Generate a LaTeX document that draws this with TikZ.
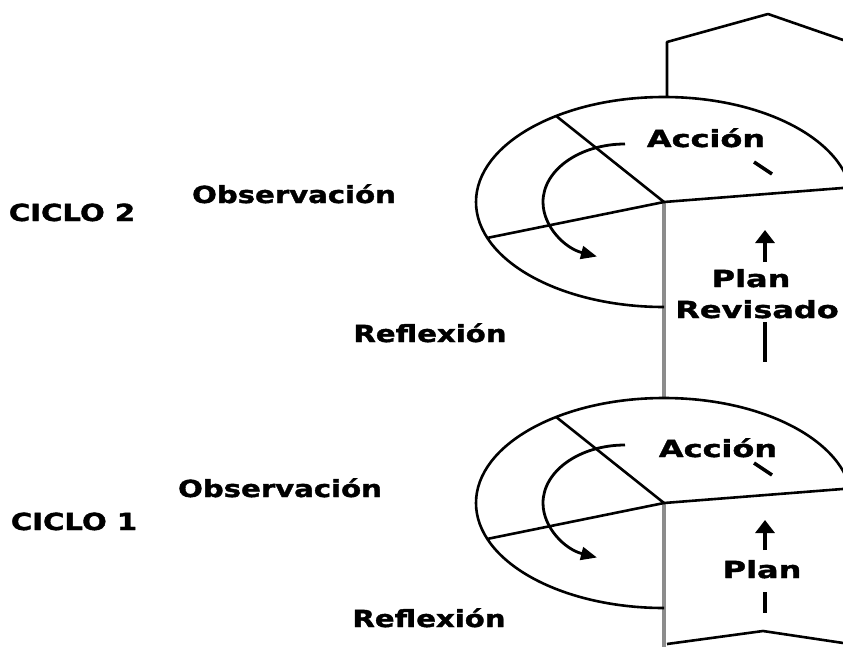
\documentclass[tikz,border=0pt]{standalone}
\usepackage{fontspec}
\newfontfamily\sidefont{DejaVu Sans}[FakeStretch=1.24, FakeBold=1.6]
\newfontfamily\wingfont{DejaVu Sans}[FakeStretch=1.36, FakeBold=1.6]
\usepackage{tikz}
\usetikzlibrary{arrows.meta}

\begin{document}
\begin{tikzpicture}[x=1pt, y=-1pt,
  txt/.style={font=\sidefont\bfseries\fontsize{23.5}{26}\selectfont, inner sep=0pt, anchor=base},
  txtr/.style={font=\wingfont\bfseries\fontsize{23.5}{26}\selectfont, inner sep=0pt, anchor=base},
  rim/.style={line width=2.6pt, line join=round},
  spine/.style={line width=4.5pt, draw=black!45},
  up/.style={line width=3.5pt, -{Triangle[length=13pt, width=19pt]}},
  stub/.style={line width=3.5pt},
  turn/.style={line width=2.8pt, -{Triangle[length=16pt, width=13pt]}}]
  \useasboundingbox (0,0) rectangle (843,646);
  \clip (0,0) rectangle (843,646);

  \coordinate (c2) at (664,202);
  \coordinate (c1) at (664,503);
  \coordinate (top1) at (664,398);
  \coordinate (foot) at (664,650);

  % grey spine
  \draw[spine] (c2) -- (top1);
  \draw[spine] (c1) -- (foot);

  % the two cycles
  \foreach \c in {c1,c2} {
    \draw[rim] ([shift={(188,0)}]\c) arc[start angle=0, end angle=-270, x radius=188, y radius=105];
    \draw[rim] (\c) -- ++(-125:188 and 105);
    \draw[rim] (\c) -- ++(-200:188 and 105);
    \draw[rim] (\c) -- ++(-8:188 and 105);
    \draw[turn] ([shift={(-39,-58)}]\c) arc[start angle=-90, end angle=-250, x radius=82, y radius=58];
    \draw[stub] ([shift={(90,-40)}]\c) -- ++(18,12);
  }

  % chevrons
  \coordinate (neck) at (667,42);
  \coordinate (peak) at (768,14);
  \coordinate (tail) at (875,51);
  \draw[rim] ([shift={(3,-105)}]c2) -- (neck) -- (peak) -- (tail);
  \coordinate (low) at (667,644);
  \coordinate (lowpeak) at (763,631);
  \coordinate (lowtail) at (870,647);
  \draw[rim] (low) -- (lowpeak) -- (lowtail);

  % labels
  \node[txt] (ciclo2) at (72,221) {CICLO 2};
  \node[txt] (obs2) at (294,203) {Observación};
  \node[txt] (refl2) at (430,342) {Reflexión};
  \node[txtr] (acc2) at (706,147) {Acción};
  \node[txtr] (plan2) at (751,287) {Plan};
  \node[txtr] (rev2) at (757,318) {Revisado};

  \node[txt] (ciclo1) at (74,530) {CICLO 1};
  \node[txt] (obs1) at (280,497) {Observación};
  \node[txt] (refl1) at (429,627) {Reflexión};
  \node[txtr] (acc1) at (718,457) {Acción};
  \node[txtr] (plan1) at (762,578) {Plan};

  % plan arrows
  \coordinate (a2s) at (765,262);
  \coordinate (a2e) at (765,230);
  \coordinate (b2s) at (765,322);
  \coordinate (b2e) at (765,362);
  \draw[up] (a2s) -- (a2e);
  \draw[stub] (b2s) -- (b2e);
  \coordinate (a1s) at (765,550);
  \coordinate (a1e) at (765,520);
  \coordinate (b1s) at (765,592);
  \coordinate (b1e) at (765,613);
  \draw[up] (a1s) -- (a1e);
  \draw[stub] (b1s) -- (b1e);
\end{tikzpicture}
\end{document}
